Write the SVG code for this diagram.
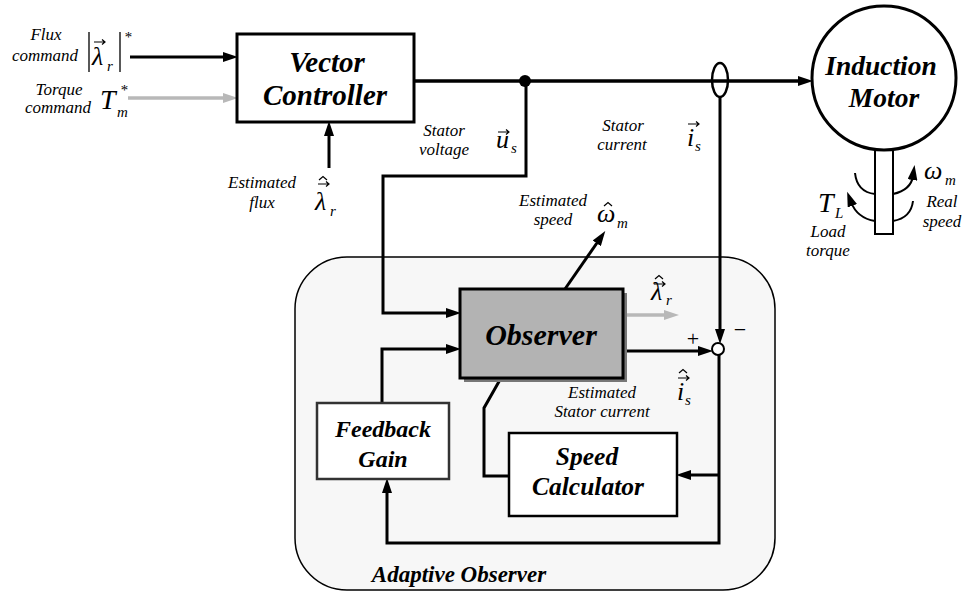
<svg xmlns="http://www.w3.org/2000/svg" width="971" height="594" viewBox="0 0 971 594">
  <defs>
    <marker id="ah" markerUnits="userSpaceOnUse" markerWidth="16" markerHeight="10" refX="4" refY="5" orient="auto">
      <path d="M0,0 L15,5 L0,10 z" fill="#000"/>
    </marker>
    <marker id="ahg" markerUnits="userSpaceOnUse" markerWidth="16" markerHeight="10" refX="4" refY="5" orient="auto">
      <path d="M0,0 L15,5 L0,10 z" fill="#b8b8b8"/>
    </marker>
    <!-- vector arrow and hat accents placed above symbols -->
    <path id="vec" d="M0,0 H11 M8,-2.5 L11,0 L8,2.5" fill="none" stroke="#000" stroke-width="1.2"/>
    <path id="hat" d="M0,0 L4,-3.5 L8,0" fill="none" stroke="#000" stroke-width="1.2"/>
  </defs>

  <!-- adaptive observer enclosure -->
  <g id="adaptive-observer">
    <rect x="295" y="257" width="480" height="333" rx="52" ry="52" fill="#f7f7f7" stroke="#000" stroke-width="1.5"/>
    <text font-family="Liberation Serif" font-weight="bold" font-style="italic" text-anchor="middle" x="459" y="582" font-size="23">Adaptive Observer</text>
  </g>

  <!-- connectors -->
  <g id="connectors" fill="none" stroke="#000" stroke-width="3">
    <!-- flux command -->
    <path d="M130,57 H227" marker-end="url(#ah)"/>
    <!-- torque command -->
    <path d="M128,98 H227" stroke="#b8b8b8" stroke-width="3.5" marker-end="url(#ahg)"/>
    <!-- estimated flux into controller -->
    <path d="M329,168 V132" marker-end="url(#ah)"/>
    <!-- stator voltage to motor -->
    <path stroke-width="3.5" d="M414,81 H802" marker-end="url(#ah)"/>
    <circle cx="525" cy="81" r="6" fill="#000" stroke="none"/>
    <!-- voltage tap to observer -->
    <path d="M526,81 V176 H383 V313 H450" marker-end="url(#ah)"/>
    <!-- current sensor -->
    <ellipse cx="720" cy="80" rx="8" ry="17" stroke-width="2.5"/>
    <path d="M720,97 V333" marker-end="url(#ah)"/>
    <!-- estimated speed -->
    <path d="M565,289 L599,240" marker-end="url(#ah)"/>
    <!-- estimated flux out -->
    <path d="M627,315 H668" stroke="#b8b8b8" stroke-width="3.5" marker-end="url(#ahg)"/>
    <!-- estimated current to summing junction -->
    <path d="M623,351 H702" marker-end="url(#ah)"/>
    <circle cx="718" cy="349" r="6" fill="#fff" stroke-width="2"/>
    <!-- error feedback loop -->
    <path d="M719,355 V543 H387 V489" marker-end="url(#ah)"/>
    <path d="M719,475 H687" marker-end="url(#ah)"/>
    <!-- feedback gain to observer -->
    <path d="M382,403 V349 H450" marker-end="url(#ah)"/>
    <!-- observer to speed calculator -->
    <path d="M501,378 L484,408 V476 H509"/>
    <!-- load torque and real speed arcs -->
    <path stroke-width="2" d="M855,173 Q857,192 875,194"/>
    <path stroke-width="2" d="M875,221 Q857,218 851,202" marker-end="url(#ah)"/>
    <path stroke-width="2" d="M893,194 Q911,190 913,176" marker-end="url(#ah)"/>
    <path stroke-width="2" d="M893,221 Q911,218 913,201"/>
  </g>

  <!-- vector controller -->
  <g id="vector-controller">
    <rect x="237" y="34" width="177" height="88" fill="#fff" stroke="#000" stroke-width="3"/>
    <text font-family="Liberation Serif" font-weight="bold" font-style="italic" text-anchor="middle" x="327" y="72" font-size="29">Vector</text>
    <text font-family="Liberation Serif" font-weight="bold" font-style="italic" text-anchor="middle" x="325" y="105" font-size="29">Controller</text>
  </g>

  <!-- induction motor -->
  <g id="induction-motor">
    <rect x="875" y="150" width="18" height="84" fill="#fff" stroke="#000" stroke-width="2"/>
    <circle cx="884" cy="78" r="72" fill="#fff" stroke="#000" stroke-width="3"/>
    <text font-family="Liberation Serif" font-weight="bold" font-style="italic" text-anchor="middle" x="881" y="75" font-size="27.5">Induction</text>
    <text font-family="Liberation Serif" font-weight="bold" font-style="italic" text-anchor="middle" x="884" y="107" font-size="27.5">Motor</text>
  </g>

  <!-- observer -->
  <g id="observer">
    <rect x="464" y="293" width="163" height="89" fill="#777"/>
    <rect x="460" y="289" width="163" height="89" fill="#b3b3b3" stroke="#000" stroke-width="3"/>
    <text font-family="Liberation Serif" font-weight="bold" font-style="italic" text-anchor="middle" x="541" y="345" font-size="30">Observer</text>
  </g>

  <!-- feedback gain -->
  <g id="feedback-gain">
    <rect x="317" y="403" width="132" height="76" fill="#fff" stroke="#333" stroke-width="2.5"/>
    <text font-family="Liberation Serif" font-weight="bold" font-style="italic" text-anchor="middle" x="383" y="437" font-size="24">Feedback</text>
    <text font-family="Liberation Serif" font-weight="bold" font-style="italic" text-anchor="middle" x="383" y="467" font-size="24">Gain</text>
  </g>

  <!-- speed calculator -->
  <g id="speed-calculator">
    <rect x="509" y="433" width="168" height="83" fill="#fff" stroke="#000" stroke-width="2.5"/>
    <text font-family="Liberation Serif" font-weight="bold" font-style="italic" text-anchor="middle" x="587" y="465" font-size="25.5">Speed</text>
    <text font-family="Liberation Serif" font-weight="bold" font-style="italic" text-anchor="middle" x="588" y="495" font-size="25.5">Calculator</text>
  </g>

  <!-- signal labels -->
  <g id="labels">
    <!-- flux command -->
    <text font-family="Liberation Serif" font-style="italic" font-size="17" text-anchor="middle" x="46" y="40">Flux</text>
    <text font-family="Liberation Serif" font-style="italic" font-size="17" text-anchor="middle" x="45" y="61">command</text>
    <path d="M89,32 V72 M120,32 V72" stroke="#000" stroke-width="1.3"/>
    <use href="#vec" x="94" y="42"/>
    <text font-family="Liberation Serif" font-style="italic" font-size="26" x="92" y="65">&#955;</text>
    <text font-family="Liberation Serif" font-style="italic" font-size="15" x="107" y="71">r</text>
    <text font-family="Liberation Serif" font-style="italic" font-size="15" x="124" y="42">*</text>

    <!-- torque command -->
    <text font-family="Liberation Serif" font-style="italic" font-size="17" text-anchor="middle" x="59" y="95">Torque</text>
    <text font-family="Liberation Serif" font-style="italic" font-size="17" text-anchor="middle" x="58" y="113">command</text>
    <text font-family="Liberation Serif" font-style="italic" font-size="28" x="100" y="109">T</text>
    <text font-family="Liberation Serif" font-style="italic" font-size="15" x="120" y="95">*</text>
    <text font-family="Liberation Serif" font-style="italic" font-size="15" x="117" y="117">m</text>

    <!-- estimated flux -->
    <text font-family="Liberation Serif" font-style="italic" font-size="17" text-anchor="middle" x="262" y="188">Estimated</text>
    <text font-family="Liberation Serif" font-style="italic" font-size="17" text-anchor="middle" x="262" y="208">flux</text>
    <use href="#hat" x="319" y="180"/>
    <use href="#vec" x="318" y="184"/>
    <text font-family="Liberation Serif" font-style="italic" font-size="26" x="315" y="210">&#955;</text>
    <text font-family="Liberation Serif" font-style="italic" font-size="15" x="330" y="216">r</text>

    <!-- stator voltage -->
    <text font-family="Liberation Serif" font-style="italic" font-size="17" text-anchor="middle" x="444" y="136">Stator</text>
    <text font-family="Liberation Serif" font-style="italic" font-size="17" text-anchor="middle" x="444" y="155">voltage</text>
    <use href="#vec" x="498" y="132"/>
    <text font-family="Liberation Serif" font-style="italic" font-size="26" x="496" y="148">u</text>
    <text font-family="Liberation Serif" font-style="italic" font-size="15" x="511" y="153">s</text>

    <!-- stator current -->
    <text font-family="Liberation Serif" font-style="italic" font-size="17" text-anchor="middle" x="623" y="131">Stator</text>
    <text font-family="Liberation Serif" font-style="italic" font-size="17" text-anchor="middle" x="622" y="150">current</text>
    <use href="#vec" x="688" y="124"/>
    <text font-family="Liberation Serif" font-style="italic" font-size="26" x="687" y="146">i</text>
    <text font-family="Liberation Serif" font-style="italic" font-size="15" x="695" y="151">s</text>

    <!-- estimated speed -->
    <text font-family="Liberation Serif" font-style="italic" font-size="17" text-anchor="middle" x="553" y="206">Estimated</text>
    <text font-family="Liberation Serif" font-style="italic" font-size="17" text-anchor="middle" x="553" y="225">speed</text>
    <use href="#hat" x="604" y="206"/>
    <text font-family="Liberation Serif" font-style="italic" font-size="26" x="597" y="222">&#969;</text>
    <text font-family="Liberation Serif" font-style="italic" font-size="15" x="617" y="228">m</text>

    <!-- estimated flux from observer -->
    <use href="#hat" x="655" y="279"/>
    <use href="#vec" x="654" y="284"/>
    <text font-family="Liberation Serif" font-style="italic" font-size="26" x="651" y="300">&#955;</text>
    <text font-family="Liberation Serif" font-style="italic" font-size="15" x="666" y="305">r</text>

    <!-- summing signs -->
    <text font-family="Liberation Serif" font-size="22" text-anchor="middle" x="693" y="346">+</text>
    <text font-family="Liberation Serif" font-size="22" text-anchor="middle" x="740" y="337">&#8722;</text>

    <!-- estimated stator current -->
    <use href="#hat" x="679" y="373"/>
    <use href="#vec" x="678" y="378"/>
    <text font-family="Liberation Serif" font-style="italic" font-size="26" x="677" y="400">i</text>
    <text font-family="Liberation Serif" font-style="italic" font-size="15" x="685" y="405">s</text>
    <text font-family="Liberation Serif" font-style="italic" font-size="17" text-anchor="middle" x="602" y="398">Estimated</text>
    <text font-family="Liberation Serif" font-style="italic" font-size="17" text-anchor="middle" x="602" y="417">Stator current</text>

    <!-- motor shaft labels -->
    <text font-family="Liberation Serif" font-style="italic" font-size="26" x="924" y="179">&#969;</text>
    <text font-family="Liberation Serif" font-style="italic" font-size="15" x="945" y="185">m</text>
    <text font-family="Liberation Serif" font-style="italic" font-size="17" text-anchor="middle" x="942" y="207">Real</text>
    <text font-family="Liberation Serif" font-style="italic" font-size="17" text-anchor="middle" x="942" y="227">speed</text>
    <text font-family="Liberation Serif" font-style="italic" font-size="28" x="818" y="212">T</text>
    <text font-family="Liberation Serif" font-style="italic" font-size="15" x="835" y="218">L</text>
    <text font-family="Liberation Serif" font-style="italic" font-size="17" text-anchor="middle" x="828" y="237">Load</text>
    <text font-family="Liberation Serif" font-style="italic" font-size="17" text-anchor="middle" x="828" y="256">torque</text>
  </g>
</svg>
